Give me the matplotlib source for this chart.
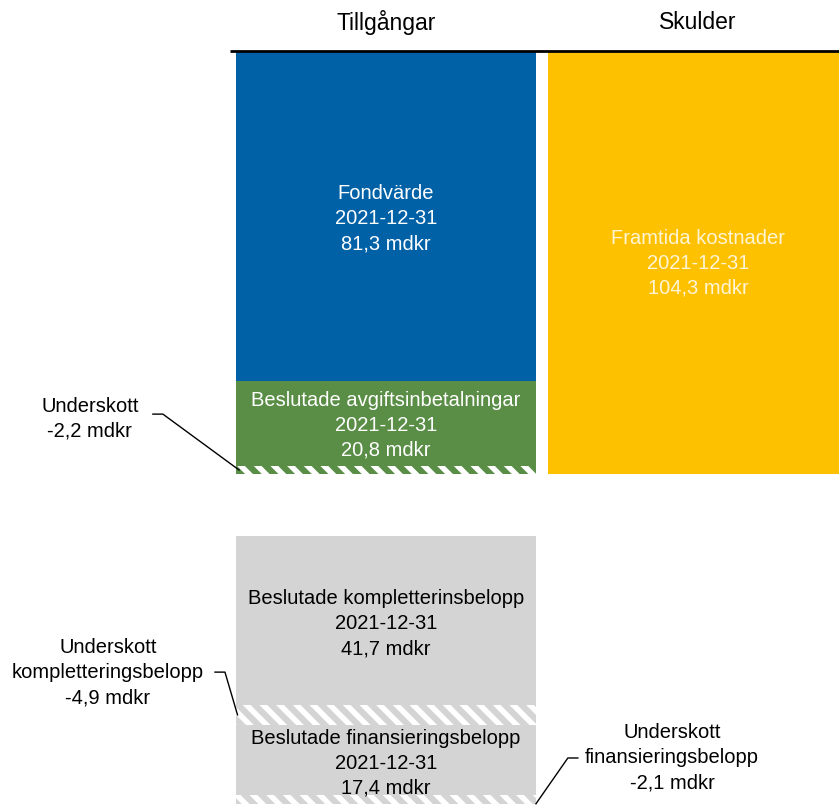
import matplotlib.pyplot as plt

plt.rcParams['font.family'] = ['Liberation Sans', 'DejaVu Sans']
plt.rcParams['hatch.linewidth'] = 4.5

# Balance in mdkr, 2021-12-31
columns = ["Tillgångar", "Skulder"]
asset_names = ["Fondvärde", "Beslutade avgiftsinbetalningar"]
asset_values = [81.3, 20.8]
asset_deficit = 2.2
liability_name = "Framtida kostnader"
liability_value = 104.3

supp_names = ["Beslutade kompletterinsbelopp", "Beslutade finansieringsbelopp"]
supp_values = [41.7, 17.4]
supp_deficits = [4.9, 2.1]
deficit_names = ["Underskott", "Underskott\nkompletteringsbelopp", "Underskott\nfinansieringsbelopp"]

date = "2021-12-31"

def fmt(v):
    return f"{v:.1f}".replace(".", ",")

blue = "#0061a7"
green = "#5a8e46"
yellow = "#fec100"
gray = "#d4d4d4"

fig = plt.figure(figsize=(8.39, 8.07), dpi=100)
ax = fig.add_axes([0, 0, 1, 1])
w = 0.9615
fs = 14.5
ls = 1.4

# top block: assets vs liabilities, stacked downwards from 0
ax.bar(0, asset_values[0], bottom=0, width=w, color=blue, lw=0)
ax.bar(0, asset_values[1], bottom=asset_values[0], width=w, color=green, lw=0)
top_end = sum(asset_values)
ax.bar(0, asset_deficit, bottom=top_end, width=w, color="white",
       edgecolor=green, hatch="\\\\", lw=0)
ax.bar(1, liability_value, bottom=0, width=w, color=yellow, lw=0)

bottom = 0
for name, v in zip(asset_names, asset_values):
    ax.text(0, bottom + v / 2 + 0.5, f"{name}\n{date}\n{fmt(v)} mdkr", ha="center",
            va="center", color="white", fontsize=fs, linespacing=ls)
    bottom += v
ax.text(1, liability_value / 2, f"{liability_name}\n{date}\n{fmt(liability_value)} mdkr",
        ha="center", va="center", color="#fff4d6", fontsize=fs, linespacing=ls)

# lower block: supplementary amounts with their deficits
start = 119.5
b = start
seg_ends = []
for name, v, d in zip(supp_names, supp_values, supp_deficits):
    ax.bar(0, v, bottom=b, width=w, color=gray, lw=0)
    ax.text(0, b + v / 2 + 0.8, f"{name}\n{date}\n{fmt(v)} mdkr", ha="center",
            va="center", color="black", fontsize=fs, linespacing=ls)
    ax.bar(0, d, bottom=b + v, width=w, color="white", edgecolor=gray,
           hatch="\\\\", lw=0)
    seg_ends.append(b + v)
    b += v + d

# column headers and rule
ax.plot([-0.5, 1.6], [-0.25, -0.25], color="black", lw=2, solid_capstyle="butt")
for i, c in enumerate(columns):
    ax.text(i, -7.4, c, ha="center", va="center", fontsize=16.5)

# deficit callouts
left = -w / 2
right = w / 2
callouts = [
    (deficit_names[0], asset_deficit, (-0.949, 90.5),
     [(-0.747, 89.4), (-0.715, 89.4), (left + 0.01, top_end + asset_deficit / 2)]),
    (deficit_names[1], supp_deficits[0], (-0.891, 153.3),
     [(-0.548, 153.1), (-0.516, 153.1), (left + 0.005, seg_ends[0] + supp_deficits[0] / 2)]),
    (deficit_names[2], supp_deficits[1], (0.917, 174.3),
     [(0.615, 174.3), (0.583, 174.3), (right, seg_ends[1] + supp_deficits[1])]),
]
for label, d, (tx, ty), pts in callouts:
    ax.text(tx, ty, f"{label}\n-{fmt(d)} mdkr", ha="center", va="center",
            fontsize=fs, linespacing=ls)
    ax.plot([p[0] for p in pts], [p[1] for p in pts], color="black", lw=1)

ax.set_xlim(-1.237, 1.452)
ax.set_ylim(186.4, -12.84)
ax.axis("off")

fig.savefig("out.png", dpi=100)
